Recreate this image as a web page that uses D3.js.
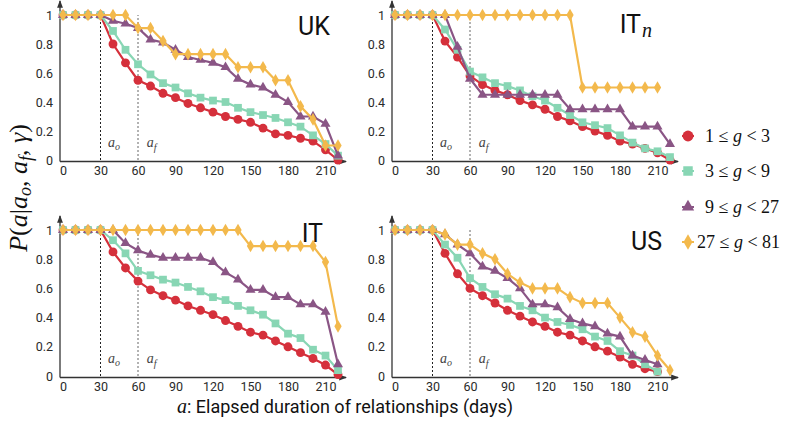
<!DOCTYPE html>
<html><head><meta charset="utf-8">
<script src="https://cdn.jsdelivr.net/npm/d3@7"></script>
<style>body{margin:0;background:#fff;} svg{display:block;}</style>
</head><body>
<svg id="c" width="789" height="421"></svg>
<script>
const days = d3.range(0, 230, 10);
const xTicks = [0,30,60,90,120,150,180,210];
const yTicks = [0,0.2,0.4,0.6,0.8,1];
const groupLabels = ["1", "3", "9", "27"];
const groupUpper = ["3", "9", "27", "81"];
const lead = [1,1,1,1];

// UK
const ukG1 = lead.concat([0.80,0.67,0.55,0.51,0.46,0.43,0.39,0.36,0.33,0.30,0.28,0.26,0.22,0.18,0.17,0.15,0.13,0.07,0.00]);
const ukG2 = lead.concat([0.89,0.76,0.66,0.59,0.53,0.50,0.46,0.43,0.41,0.40,0.36,0.33,0.31,0.29,0.26,0.23,0.17,0.11,0.03]);
const ukG3 = lead.concat([0.96,0.94,0.91,0.83,0.81,0.76,0.71,0.69,0.67,0.64,0.56,0.52,0.50,0.45,0.40,0.30,0.30,0.25,0.03]);
const ukG4 = lead.concat([1,1,0.91,0.91,0.82,0.73,0.73,0.73,0.73,0.73,0.64,0.64,0.64,0.55,0.55,0.37,0.28,0.10,0.10]);
// IT_n
const itnG1 = lead.concat([0.82,0.71,0.58,0.52,0.48,0.45,0.41,0.38,0.35,0.30,0.27,0.23,0.20,0.17,0.13,0.11,0.08,0.05,0.00]);
const itnG2 = lead.concat([0.90,0.76,0.61,0.57,0.53,0.51,0.48,0.44,0.41,0.36,0.31,0.26,0.24,0.22,0.17,0.12,0.08,0.06,0.02]);
const itnG3 = lead.concat([1,0.78,0.56,0.45,0.45,0.45,0.45,0.45,0.45,0.45,0.35,0.35,0.35,0.35,0.35,0.23,0.23,0.23,0.11]);
const itnG4 = lead.concat([1,1,1,1,1,1,1,1,1,1,1,0.50,0.50,0.50,0.50,0.50,0.50,0.50]);
// IT
const itG1 = lead.concat([0.85,0.74,0.65,0.59,0.55,0.52,0.48,0.45,0.42,0.38,0.34,0.30,0.28,0.24,0.20,0.16,0.12,0.075,0.01]);
const itG2 = lead.concat([0.93,0.84,0.72,0.69,0.66,0.64,0.61,0.58,0.54,0.52,0.48,0.45,0.42,0.36,0.29,0.26,0.18,0.14,0.04]);
const itG3 = lead.concat([1,0.91,0.86,0.83,0.81,0.81,0.81,0.81,0.78,0.71,0.66,0.59,0.59,0.54,0.54,0.49,0.49,0.44,0.08]);
const itG4 = lead.concat([1,1,1,1,1,1,1,1,1,1,1,0.89,0.89,0.89,0.89,0.89,0.89,0.78,0.34]);
// US
const usG1 = lead.concat([0.84,0.70,0.60,0.55,0.50,0.45,0.41,0.37,0.34,0.30,0.28,0.24,0.20,0.17,0.13,0.08,0.05,0.03]);
const usG2 = lead.concat([0.90,0.81,0.67,0.61,0.56,0.53,0.48,0.45,0.40,0.37,0.35,0.32,0.27,0.24,0.17,0.14,0.08,0.03]);
const usG3 = lead.concat([0.97,0.90,0.84,0.75,0.72,0.67,0.60,0.49,0.49,0.47,0.39,0.36,0.34,0.29,0.27,0.14,0.11,0.08]);
const usG4 = lead.concat([0.97,0.90,0.90,0.84,0.80,0.70,0.64,0.60,0.60,0.60,0.54,0.50,0.50,0.50,0.40,0.30,0.27,0.14,0.04]);

const colors = ["#d5303b", "#88d6b4", "#8a5585", "#f3b94c"];
const symbols = [d3.symbolCircle, d3.symbolSquare, d3.symbolTriangle, d3.symbolDiamond];
const symSizes = [62, 60, 44, 46];

const panels = [
  {title:"UK", sub:null, series:[ukG1,ukG2,ukG3,ukG4], x0:63, yTop:15, yBot:160, tx:330, ty:35},
  {title:"IT", sub:"n", series:[itnG1,itnG2,itnG3,itnG4], x0:395, yTop:15, yBot:160, tx:652, ty:33},
  {title:"IT", sub:null, series:[itG1,itG2,itG3,itG4], x0:63, yTop:230, yBot:376, tx:323, ty:242},
  {title:"US", sub:null, series:[usG1,usG2,usG3,usG4], x0:395, yTop:230, yBot:376, tx:662, ty:250}
];

const svg = d3.select("#c");
const defs = svg.append("defs");
defs.append("marker").attr("id","arr").attr("viewBox","0 0 8 8").attr("refX",7).attr("refY",4)
  .attr("markerWidth",6).attr("markerHeight",6).attr("orient","auto")
  .append("path").attr("d","M0,1 L8,4 L0,7 Z").attr("fill","#333");

const tickFont = "Roboto, 'DejaVu Sans', sans-serif";

panels.forEach(p => {
  const x = d3.scaleLinear().domain([0,220]).range([p.x0, p.x0 + 275]);
  const y = d3.scaleLinear().domain([0,1]).range([p.yBot, p.yTop]);
  const g = svg.append("g");

  // axes lines
  g.append("line").attr("x1", p.x0-3).attr("x2", p.x0-3).attr("y1", p.yBot+1.5).attr("y2", p.yTop-14)
    .attr("stroke","#333").attr("stroke-width",1.3).attr("marker-end","url(#arr)");
  g.append("line").attr("x1", p.x0-3).attr("x2", p.x0+283).attr("y1", p.yBot+1.5).attr("y2", p.yBot+1.5)
    .attr("stroke","#333").attr("stroke-width",1.3).attr("marker-end","url(#arr)");

  // tick labels via d3 axes
  const ya = g.append("g").attr("transform", `translate(${p.x0-3},0)`)
    .call(d3.axisLeft(y).tickValues(yTicks).tickSize(0).tickPadding(7).tickFormat(d => d === 0 ? "0" : d === 1 ? "1" : d3.format(".1f")(d)));
  ya.select(".domain").remove();
  ya.selectAll("text").attr("font-family", tickFont).attr("font-size", 12.5).attr("fill","#2a2a2a");
  const xa = g.append("g").attr("transform", `translate(0,${p.yBot+1.5})`)
    .call(d3.axisBottom(x).tickValues(xTicks).tickSize(0).tickPadding(5));
  xa.select(".domain").remove();
  xa.selectAll("text").attr("font-family", tickFont).attr("font-size", 12.5).attr("fill","#2a2a2a");

  // dotted reference lines at a_o and a_f
  g.append("line").attr("x1", x(30)).attr("x2", x(30)).attr("y1", y(0)).attr("y2", y(1))
    .attr("stroke","#222").attr("stroke-width",1).attr("stroke-dasharray","2,2");
  g.append("line").attr("x1", x(60)).attr("x2", x(60)).attr("y1", y(0)).attr("y2", y(1))
    .attr("stroke","#666").attr("stroke-width",1).attr("stroke-dasharray","2,2");

  const labY = p.yBot - 13;
  const ao = g.append("text").attr("x", x(36)).attr("y", labY).attr("font-family","'Liberation Serif', serif")
    .attr("font-style","italic").attr("font-size",14).attr("fill","#444");
  ao.append("tspan").text("a");
  ao.append("tspan").attr("font-size",10).attr("dy",3).text("o");
  const af = g.append("text").attr("x", x(67)).attr("y", labY).attr("font-family","'Liberation Serif', serif")
    .attr("font-style","italic").attr("font-size",14).attr("fill","#444");
  af.append("tspan").text("a");
  af.append("tspan").attr("font-size",10).attr("dy",4).text("f");

  // series
  p.series.forEach((vals, i) => {
    const pts = vals.map((v, k) => [days[k], v]);
    g.append("path").datum(pts)
      .attr("d", d3.line().x(d => x(d[0])).y(d => y(d[1])))
      .attr("fill","none").attr("stroke", colors[i]).attr("stroke-width", 2.2);
    g.selectAll(null).data(pts).enter().append("path")
      .attr("transform", d => `translate(${x(d[0])},${y(d[1])})`)
      .attr("d", d3.symbol().type(symbols[i]).size(symSizes[i]))
      .attr("fill", colors[i]);
  });

  // title
  const t = g.append("text").attr("x", p.tx).attr("y", p.ty).attr("text-anchor","end")
    .attr("font-family", tickFont).attr("font-size", 25).attr("fill","#111");
  t.append("tspan").text(p.title);
  if (p.sub) t.append("tspan").attr("font-family","'Liberation Serif', serif").attr("font-style","italic")
    .attr("font-size",20).attr("dy",4).attr("dx",1).text(p.sub);
});

// legend
const legY = [136, 171, 207, 242];
legY.forEach((ly, i) => {
  svg.append("line").attr("x1",682).attr("x2",694).attr("y1",ly).attr("y2",ly).attr("stroke",colors[i]).attr("stroke-width",2);
  svg.append("path").attr("transform", `translate(688,${ly})`)
    .attr("d", d3.symbol().type(symbols[i]).size(symSizes[i]*1.5)).attr("fill", colors[i]);
  const t = svg.append("text").attr("x", i === 3 ? 697 : 705).attr("y", ly+6)
    .attr("font-family","'Liberation Serif', serif").attr("font-size",18).attr("fill","#111");
  t.append("tspan").text(groupLabels[i] + " \u2264 ");
  t.append("tspan").attr("font-style","italic").text("g");
  t.append("tspan").text(" < " + groupUpper[i]);
});

// y axis label
const yl = svg.append("text").attr("transform","translate(27,188) rotate(-90)").attr("text-anchor","middle")
  .attr("font-family","'Liberation Serif', serif").attr("font-size",26).attr("fill","#111");
yl.append("tspan").attr("font-style","italic").text("P");
yl.append("tspan").text("(");
yl.append("tspan").attr("font-style","italic").text("a");
yl.append("tspan").text("|");
yl.append("tspan").attr("font-style","italic").text("a");
yl.append("tspan").attr("font-style","italic").attr("font-size",18).attr("dy",4).text("o");
yl.append("tspan").attr("dy",-4).text(", ");
yl.append("tspan").attr("font-style","italic").text("a");
yl.append("tspan").attr("font-style","italic").attr("font-size",18).attr("dy",5).text("f");
yl.append("tspan").attr("dy",-5).text(", ");
yl.append("tspan").attr("font-style","italic").text("\u03b3");
yl.append("tspan").text(")");

// x axis label
const xl = svg.append("text").attr("x", 345).attr("y", 413).attr("text-anchor","middle")
  .attr("font-size",18).attr("fill","#111").attr("font-family", tickFont);
xl.append("tspan").attr("font-family","'Liberation Serif', serif").attr("font-style","italic").attr("font-size",20).text("a");
xl.append("tspan").text(": Elapsed duration of relationships (days)");
</script>
</body></html>
